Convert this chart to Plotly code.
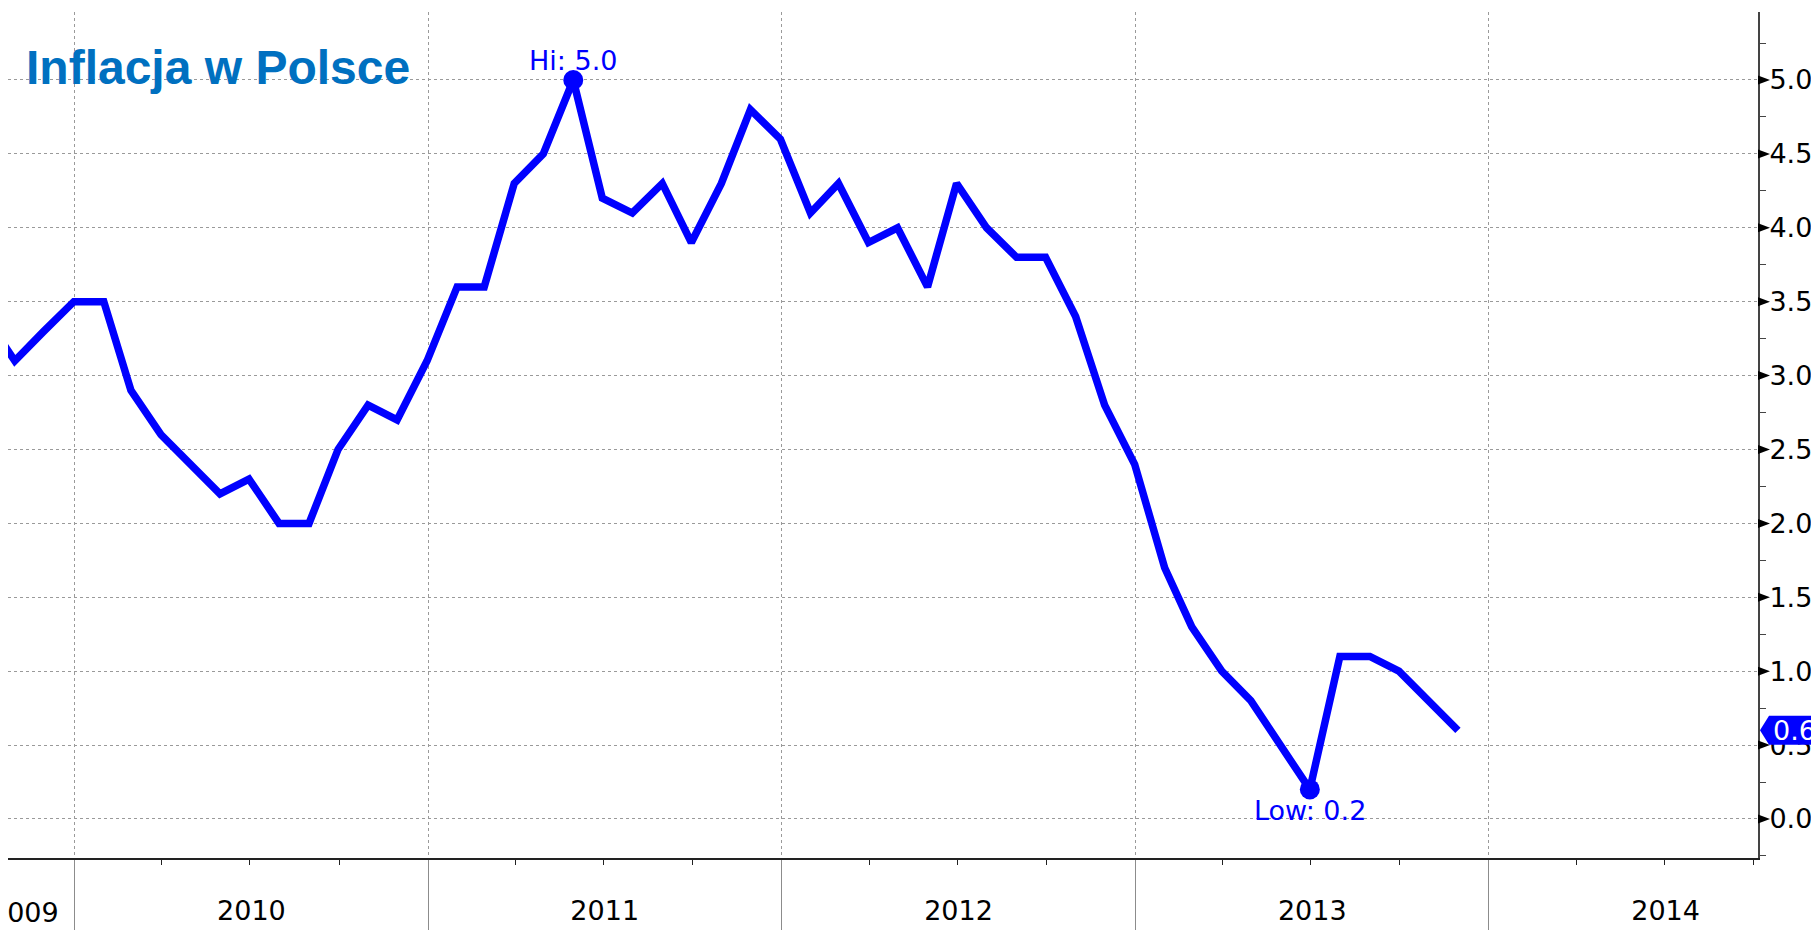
import plotly.graph_objects as go
import pandas as pd

# ---------------- data ----------------
start_month = "2009-09-30"
cpi = [3.4, 3.1, 3.3, 3.5,                                          # 2009 Sep-Dec
       3.5, 2.9, 2.6, 2.4, 2.2, 2.3, 2.0, 2.0, 2.5, 2.8, 2.7, 3.1,  # 2010
       3.6, 3.6, 4.3, 4.5, 5.0, 4.2, 4.1, 4.3, 3.9, 4.3, 4.8, 4.6,  # 2011
       4.1, 4.3, 3.9, 4.0, 3.6, 4.3, 4.0, 3.8, 3.8, 3.4, 2.8, 2.4,  # 2012
       1.7, 1.3, 1.0, 0.8, 0.5, 0.2, 1.1, 1.1, 1.0, 0.8, 0.6]       # 2013
dates = pd.date_range(start_month, periods=len(cpi), freq=pd.offsets.MonthEnd())

y_ticks = [0.0, 0.5, 1.0, 1.5, 2.0, 2.5, 3.0, 3.5, 4.0, 4.5, 5.0]
y_tick_labels = [f"{v:.1f}" for v in y_ticks]
x_range = ["2009-10-24", "2014-10-06"]
y_range = [-0.264, 5.46]
title_text = "Inflacja w Polsce"
first_year_label = "2009"

# ---------------- style ----------------
OFF = 8                      # page body margin of the html page
W, H = 1819 - OFF, 930 - OFF
ML, MR, MT, MB = 0, 61, 4, 72
PW, PH = W - ML - MR, H - MT - MB
BLUE = "#0000FF"
FONT = "DejaVu Sans"


def px_x(page_px):
    return (page_px - OFF - ML) / PW


def px_y(page_py):
    return (H - MB - (page_py - OFF)) / PH


y_per_px = (y_range[1] - y_range[0]) / PH

i_hi = max(range(len(cpi)), key=lambda i: cpi[i])
i_lo = min(range(len(cpi)), key=lambda i: cpi[i])

fig = go.Figure()
fig.add_trace(go.Scatter(x=dates, y=cpi, mode="lines",
                         line=dict(color=BLUE, width=7.5), hoverinfo="skip",
                         showlegend=False))
fig.add_trace(go.Scatter(x=[dates[i_hi], dates[i_lo]], y=[cpi[i_hi], cpi[i_lo]],
                         mode="markers", marker=dict(color=BLUE, size=20),
                         showlegend=False, hoverinfo="skip"))

shapes = []
# small black triangles at major y ticks
for v in y_ticks:
    h = 4.5 * y_per_px
    shapes.append(dict(type="path", xref="paper", yref="y", layer="above",
                       path=f"M {px_x(1758)},{v - h} L {px_x(1770)},{v} L {px_x(1758)},{v + h} Z",
                       fillcolor="black", line=dict(width=0)))
# last value tag
last = cpi[-1]
th = 14.5 * y_per_px
shapes.append(dict(type="path", xref="paper", yref="y", layer="above",
                   path=(f"M {px_x(1760)},{last} L {px_x(1769)},{last + th} "
                         f"L {px_x(1830)},{last + th} L {px_x(1830)},{last - th} "
                         f"L {px_x(1769)},{last - th} Z"),
                   fillcolor=BLUE, line=dict(width=0)))

annotations = [
    dict(text=title_text, xref="paper", yref="paper", x=px_x(24), y=px_y(67),
         xanchor="left", yanchor="middle", showarrow=False,
         font=dict(family="Liberation Sans, Arial", size=48, weight="bold", color="#0070C0")),
    dict(text=f"Hi: {cpi[i_hi]:.1f}", x=dates[i_hi], y=cpi[i_hi], xref="x", yref="y",
         xanchor="center", yanchor="bottom", yshift=2, showarrow=False,
         font=dict(family=FONT, size=27, color=BLUE)),
    dict(text=f"Low: {cpi[i_lo]:.1f}", x=dates[i_lo], y=cpi[i_lo], xref="x", yref="y",
         xanchor="center", yanchor="top", yshift=-4, showarrow=False,
         font=dict(family=FONT, size=27, color=BLUE)),
    dict(text=f"{last:.1f}", x=px_x(1771), y=last, xref="paper", yref="y",
         xanchor="left", yanchor="middle", showarrow=False,
         font=dict(family=FONT, size=27, color="white")),
    dict(text=first_year_label, xref="paper", yref="paper", x=px_x(61), y=px_y(912),
         xanchor="right", yanchor="middle", showarrow=False,
         font=dict(family=FONT, size=27, color="black")),
]

fig.update_layout(
    width=W, height=H,
    margin=dict(l=ML, r=MR, t=MT, b=MB, autoexpand=False),
    plot_bgcolor="white", paper_bgcolor="white",
    shapes=shapes, annotations=annotations,
    xaxis=dict(type="date", range=x_range, dtick="M12", tick0="2010-01-01",
               ticklabelmode="period", tickformat="%Y",
               ticks="outside", ticklen=72, tickcolor="#8c8c8c", tickwidth=1,
               ticklabelstandoff=-44,
               tickfont=dict(family=FONT, size=27, color="black"),
               showgrid=True, gridcolor="#9a9a9a", griddash="dot", gridwidth=1,
               showline=True, linecolor="#222", linewidth=2,
               minor=dict(dtick="M3", tick0="2010-01-01", ticks="outside", ticklen=5,
                          tickcolor="#222", tickwidth=1, showgrid=False),
               zeroline=False, fixedrange=True),
    yaxis=dict(side="right", range=y_range, tickvals=y_ticks, ticktext=y_tick_labels,
               ticks="", showgrid=True, gridcolor="#9a9a9a", griddash="dot", gridwidth=1,
               showline=True, linecolor="#444", linewidth=2,
               tickfont=dict(family=FONT, size=27, color="black"),
               ticklabelstandoff=4,
               minor=dict(dtick=0.25, tick0=0, ticks="outside", ticklen=6,
                          tickcolor="#444", tickwidth=1, showgrid=False),
               zeroline=False, fixedrange=True),
)

fig.write_html("out.html")
